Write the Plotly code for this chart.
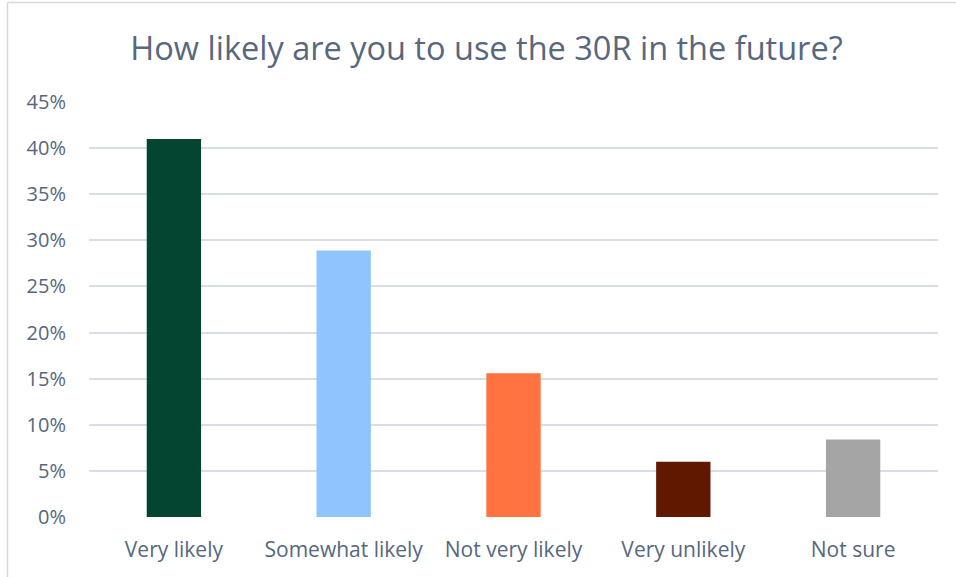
import plotly.graph_objects as go

# Survey responses
categories = ["Very likely", "Somewhat likely", "Not very likely", "Very unlikely", "Not sure"]
shares = [0.41, 0.289, 0.156, 0.06, 0.084]
bar_colors = ["#034530", "#8FC5FF", "#FF7340", "#611800", "#A5A5A5"]
tick_values = [0, 0.05, 0.10, 0.15, 0.20, 0.25, 0.30, 0.35, 0.40, 0.45]
tick_labels = ["0%", "5%", "10%", "15%", "20%", "25%", "30%", "35%", "40%", "45%"]

text_color = "#56677E"
grid_color = "#D9DEE6"
font_family = "Open Sans, Liberation Sans, sans-serif"

W, H = 956, 577
L, R, T, B = 89, 18, 102, 60
plot_w = W - L - R
plot_h = H - T - B

fig = go.Figure(
    go.Bar(
        x=categories,
        y=shares,
        marker=dict(color=bar_colors, line=dict(width=0)),
        width=0.32,
        hoverinfo="x+y",
    )
)

# Outer chart frame (left and top edges)
fx = (7.5 - L) / plot_w
fy = (H - B - 2.5) / plot_h
fig.add_shape(type="line", xref="paper", yref="paper", x0=fx, x1=1.2, y0=fy, y1=fy,
              line=dict(color="#D9D9D9", width=1.5))
fig.add_shape(type="line", xref="paper", yref="paper", x0=fx, x1=fx, y0=fy, y1=-0.3,
              line=dict(color="#D9D9D9", width=1.5))

fig.update_layout(
    width=W,
    height=H,
    margin=dict(l=L, r=R, t=T, b=B),
    paper_bgcolor="white",
    plot_bgcolor="white",
    showlegend=False,
    title=dict(
        text="How likely are you to use the 30R in the future?",
        x=(486.5 - L) / plot_w,
        xref="paper",
        xanchor="center",
        y=(H - 49) / H,
        yanchor="middle",
        font=dict(family=font_family, size=32.5, color=text_color),
    ),
    font=dict(family=font_family, color=text_color),
    xaxis=dict(
        showgrid=False,
        showline=False,
        ticks="",
        tickfont=dict(size=21, color=text_color),
        ticklabelstandoff=18,
    ),
    yaxis=dict(
        range=[0, 0.45],
        tickvals=tick_values,
        ticktext=tick_labels,
        showgrid=True,
        gridcolor=grid_color,
        gridwidth=2,
        zeroline=False,
        showline=False,
        ticks="",
        tickfont=dict(size=20, color=text_color),
        ticklabelstandoff=22,
    ),
)

fig.write_html("out.html")
